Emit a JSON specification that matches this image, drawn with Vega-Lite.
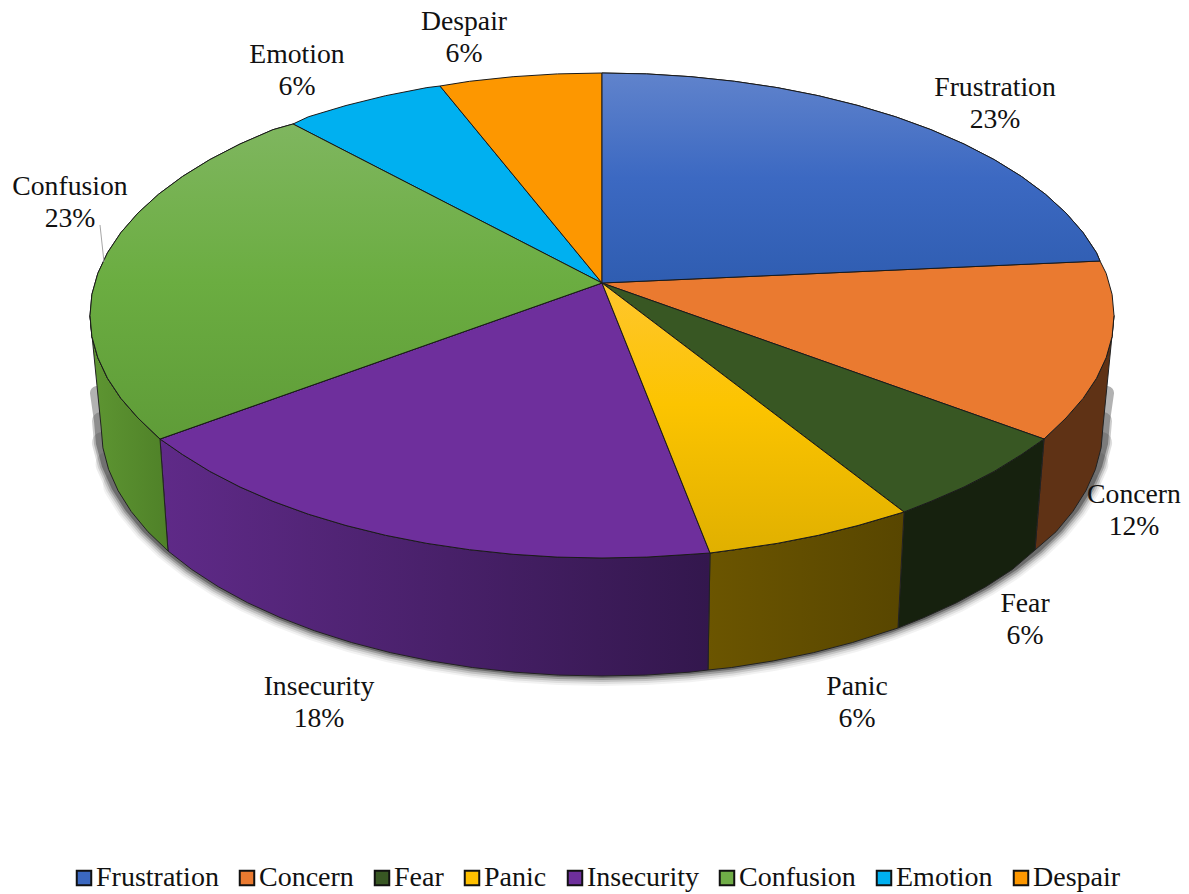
{
"$schema":"https://vega.github.io/schema/vega-lite/v6.json",
"width":1189,"height":894,"padding":0,
"autosize":{"type":"fit","contains":"padding"},
"background":"white",
"config":{"view":{"stroke":null},"text":{"font":"Liberation Serif","fontSize":27.7,"color":"#111111"}},
"datasets":{
"labels":[
{"category":"Frustration","share":"23%","x":393,"y":180},
{"category":"Concern","share":"12%","x":532,"y":-227},
{"category":"Fear","share":"6%","x":423,"y":-336},
{"category":"Panic","share":"6%","x":255,"y":-419},
{"category":"Insecurity","share":"18%","x":-283,"y":-419},
{"category":"Confusion","share":"23%","x":-532,"y":81},
{"category":"Emotion","share":"6%","x":-305,"y":213},
{"category":"Despair","share":"6%","x":-138,"y":246}
],
"leader":[{"s":1,"x":-502,"y":58},{"s":2,"x":-498,"y":21}],
"shadow":[
{"s":0,"x":-505,"y":-115},{"s":1,"x":-501,"y":-143},{"s":2,"x":-499.1,"y":-164.8},{"s":3,"x":-493.4,"y":-186.4},{"s":4,"x":-483.9,"y":-207.7},{"s":5,"x":-470.8,"y":-228.5},{"s":6,"x":-454.1,"y":-248.7},{"s":7,"x":-433.9,"y":-268},{"s":8,"x":-410.4,"y":-286.4},{"s":9,"x":-383.8,"y":-303.7},{"s":10,"x":-354.3,"y":-319.8},{"s":11,"x":-322,"y":-334.5},{"s":12,"x":-287.4,"y":-347.8},{"s":13,"x":-250.5,"y":-359.5},{"s":14,"x":-211.7,"y":-369.6},{"s":15,"x":-171.3,"y":-377.9},{"s":16,"x":-129.7,"y":-384.5},{"s":17,"x":-87,"y":-389.2},{"s":18,"x":-43.7,"y":-392.1},{"s":19,"x":0,"y":-393},{"s":20,"x":43.7,"y":-392.1},{"s":21,"x":87,"y":-389.2},{"s":22,"x":129.7,"y":-384.5},{"s":23,"x":171.3,"y":-377.9},{"s":24,"x":211.7,"y":-369.6},{"s":25,"x":250.5,"y":-359.5},{"s":26,"x":287.4,"y":-347.8},{"s":27,"x":322,"y":-334.5},{"s":28,"x":354.3,"y":-319.8},{"s":29,"x":383.8,"y":-303.7},{"s":30,"x":410.4,"y":-286.4},{"s":31,"x":433.9,"y":-268},{"s":32,"x":454.1,"y":-248.7},{"s":33,"x":470.8,"y":-228.5},{"s":34,"x":483.9,"y":-207.7},{"s":35,"x":493.4,"y":-186.4},{"s":36,"x":499.1,"y":-164.8},{"s":37,"x":501,"y":-143},{"s":38,"x":505,"y":-115}
],
"side":[
{"category":"Concern","s":1,"x":512,"y":-32.5},{"category":"Concern","s":2,"x":510.1,"y":-53.6},{"category":"Concern","s":3,"x":504.2,"y":-74.6},{"category":"Concern","s":4,"x":494.5,"y":-95.3},{"category":"Concern","s":5,"x":481.1,"y":-115.4},{"category":"Concern","s":6,"x":464,"y":-135},{"category":"Concern","s":7,"x":442,"y":-156},{"category":"Concern","s":8,"x":433,"y":-267},{"category":"Concern","s":9,"x":454.1,"y":-248.7},{"category":"Concern","s":10,"x":470.8,"y":-228.5},{"category":"Concern","s":11,"x":483.9,"y":-207.7},{"category":"Concern","s":12,"x":493.4,"y":-186.4},{"category":"Concern","s":13,"x":499.1,"y":-164.8},{"category":"Concern","s":14,"x":501,"y":-143},
{"category":"Fear","s":1,"x":442,"y":-156},{"category":"Fear","s":2,"x":419.4,"y":-171.6},{"category":"Fear","s":3,"x":392.2,"y":-188.4},{"category":"Fear","s":4,"x":362,"y":-204},{"category":"Fear","s":5,"x":329.1,"y":-218.3},{"category":"Fear","s":6,"x":302,"y":-229},{"category":"Fear","s":7,"x":296,"y":-345},{"category":"Fear","s":8,"x":322,"y":-334.5},{"category":"Fear","s":9,"x":354.3,"y":-319.8},{"category":"Fear","s":10,"x":383.8,"y":-303.7},{"category":"Fear","s":11,"x":410.4,"y":-286.4},{"category":"Fear","s":12,"x":433,"y":-267},
{"category":"Panic","s":1,"x":302,"y":-229},{"category":"Panic","s":2,"x":256,"y":-242.5},{"category":"Panic","s":3,"x":216.4,"y":-252.3},{"category":"Panic","s":4,"x":175.1,"y":-260.4},{"category":"Panic","s":5,"x":132.5,"y":-266.7},{"category":"Panic","s":6,"x":108,"y":-270},{"category":"Panic","s":7,"x":106,"y":-387},{"category":"Panic","s":8,"x":129.7,"y":-384.5},{"category":"Panic","s":9,"x":171.3,"y":-377.9},{"category":"Panic","s":10,"x":211.7,"y":-369.6},{"category":"Panic","s":11,"x":250.5,"y":-359.5},{"category":"Panic","s":12,"x":296,"y":-345},
{"category":"Insecurity","s":1,"x":108,"y":-270},{"category":"Insecurity","s":2,"x":88.9,"y":-271.3},{"category":"Insecurity","s":3,"x":44.6,"y":-274.1},{"category":"Insecurity","s":4,"x":0,"y":-275},{"category":"Insecurity","s":5,"x":-44.6,"y":-274.1},{"category":"Insecurity","s":6,"x":-88.9,"y":-271.3},{"category":"Insecurity","s":7,"x":-132.5,"y":-266.7},{"category":"Insecurity","s":8,"x":-175.1,"y":-260.4},{"category":"Insecurity","s":9,"x":-216.4,"y":-252.3},{"category":"Insecurity","s":10,"x":-256,"y":-242.5},{"category":"Insecurity","s":11,"x":-293.7,"y":-231.2},{"category":"Insecurity","s":12,"x":-329.1,"y":-218.3},{"category":"Insecurity","s":13,"x":-362,"y":-204},{"category":"Insecurity","s":14,"x":-392.2,"y":-188.4},{"category":"Insecurity","s":15,"x":-419.4,"y":-171.6},{"category":"Insecurity","s":16,"x":-442,"y":-156},{"category":"Insecurity","s":17,"x":-434,"y":-268},{"category":"Insecurity","s":18,"x":-410.4,"y":-286.4},{"category":"Insecurity","s":19,"x":-383.8,"y":-303.7},{"category":"Insecurity","s":20,"x":-354.3,"y":-319.8},{"category":"Insecurity","s":21,"x":-322,"y":-334.5},{"category":"Insecurity","s":22,"x":-287.4,"y":-347.8},{"category":"Insecurity","s":23,"x":-250.5,"y":-359.5},{"category":"Insecurity","s":24,"x":-211.7,"y":-369.6},{"category":"Insecurity","s":25,"x":-171.3,"y":-377.9},{"category":"Insecurity","s":26,"x":-129.7,"y":-384.5},{"category":"Insecurity","s":27,"x":-87,"y":-389.2},{"category":"Insecurity","s":28,"x":-43.7,"y":-392.1},{"category":"Insecurity","s":29,"x":0,"y":-393},{"category":"Insecurity","s":30,"x":43.7,"y":-392.1},{"category":"Insecurity","s":31,"x":87,"y":-389.2},{"category":"Insecurity","s":32,"x":106,"y":-387},
{"category":"Confusion","s":1,"x":-442,"y":-156},{"category":"Confusion","s":2,"x":-464,"y":-135},{"category":"Confusion","s":3,"x":-481.1,"y":-115.4},{"category":"Confusion","s":4,"x":-494.5,"y":-95.3},{"category":"Confusion","s":5,"x":-504.2,"y":-74.6},{"category":"Confusion","s":6,"x":-510.1,"y":-53.6},{"category":"Confusion","s":7,"x":-512,"y":-32.5},{"category":"Confusion","s":8,"x":-501,"y":-143},{"category":"Confusion","s":9,"x":-499.1,"y":-164.8},{"category":"Confusion","s":10,"x":-493.4,"y":-186.4},{"category":"Confusion","s":11,"x":-483.9,"y":-207.7},{"category":"Confusion","s":12,"x":-470.8,"y":-228.5},{"category":"Confusion","s":13,"x":-454.1,"y":-248.7},{"category":"Confusion","s":14,"x":-434,"y":-268}
],
"top":[
{"category":"Frustration","s":0,"x":0,"y":0},{"category":"Frustration","s":1,"x":0,"y":210},{"category":"Frustration","s":2,"x":44.6,"y":209.1},{"category":"Frustration","s":3,"x":88.9,"y":206.3},{"category":"Frustration","s":4,"x":132.5,"y":201.7},{"category":"Frustration","s":5,"x":175.1,"y":195.4},{"category":"Frustration","s":6,"x":216.4,"y":187.3},{"category":"Frustration","s":7,"x":256,"y":177.5},{"category":"Frustration","s":8,"x":293.7,"y":166.2},{"category":"Frustration","s":9,"x":329.1,"y":153.3},{"category":"Frustration","s":10,"x":362,"y":139},{"category":"Frustration","s":11,"x":392.2,"y":123.4},{"category":"Frustration","s":12,"x":419.4,"y":106.6},{"category":"Frustration","s":13,"x":443.4,"y":88.8},{"category":"Frustration","s":14,"x":464,"y":70},{"category":"Frustration","s":15,"x":481.1,"y":50.4},{"category":"Frustration","s":16,"x":494.5,"y":30.3},{"category":"Frustration","s":17,"x":498,"y":22},
{"category":"Concern","s":0,"x":0,"y":0},{"category":"Concern","s":1,"x":498,"y":22},{"category":"Concern","s":2,"x":504.2,"y":9.6},{"category":"Concern","s":3,"x":510.1,"y":-11.4},{"category":"Concern","s":4,"x":512,"y":-32.5},{"category":"Concern","s":5,"x":510.1,"y":-53.6},{"category":"Concern","s":6,"x":504.2,"y":-74.6},{"category":"Concern","s":7,"x":494.5,"y":-95.3},{"category":"Concern","s":8,"x":481.1,"y":-115.4},{"category":"Concern","s":9,"x":464,"y":-135},{"category":"Concern","s":10,"x":442,"y":-156},
{"category":"Fear","s":0,"x":0,"y":0},{"category":"Fear","s":1,"x":442,"y":-156},{"category":"Fear","s":2,"x":419.4,"y":-171.6},{"category":"Fear","s":3,"x":392.2,"y":-188.4},{"category":"Fear","s":4,"x":362,"y":-204},{"category":"Fear","s":5,"x":329.1,"y":-218.3},{"category":"Fear","s":6,"x":302,"y":-229},
{"category":"Panic","s":0,"x":0,"y":0},{"category":"Panic","s":1,"x":302,"y":-229},{"category":"Panic","s":2,"x":256,"y":-242.5},{"category":"Panic","s":3,"x":216.4,"y":-252.3},{"category":"Panic","s":4,"x":175.1,"y":-260.4},{"category":"Panic","s":5,"x":132.5,"y":-266.7},{"category":"Panic","s":6,"x":108,"y":-270},
{"category":"Insecurity","s":0,"x":0,"y":0},{"category":"Insecurity","s":1,"x":108,"y":-270},{"category":"Insecurity","s":2,"x":88.9,"y":-271.3},{"category":"Insecurity","s":3,"x":44.6,"y":-274.1},{"category":"Insecurity","s":4,"x":0,"y":-275},{"category":"Insecurity","s":5,"x":-44.6,"y":-274.1},{"category":"Insecurity","s":6,"x":-88.9,"y":-271.3},{"category":"Insecurity","s":7,"x":-132.5,"y":-266.7},{"category":"Insecurity","s":8,"x":-175.1,"y":-260.4},{"category":"Insecurity","s":9,"x":-216.4,"y":-252.3},{"category":"Insecurity","s":10,"x":-256,"y":-242.5},{"category":"Insecurity","s":11,"x":-293.7,"y":-231.2},{"category":"Insecurity","s":12,"x":-329.1,"y":-218.3},{"category":"Insecurity","s":13,"x":-362,"y":-204},{"category":"Insecurity","s":14,"x":-392.2,"y":-188.4},{"category":"Insecurity","s":15,"x":-419.4,"y":-171.6},{"category":"Insecurity","s":16,"x":-442,"y":-156},
{"category":"Confusion","s":0,"x":0,"y":0},{"category":"Confusion","s":1,"x":-442,"y":-156},{"category":"Confusion","s":2,"x":-464,"y":-135},{"category":"Confusion","s":3,"x":-481.1,"y":-115.4},{"category":"Confusion","s":4,"x":-494.5,"y":-95.3},{"category":"Confusion","s":5,"x":-504.2,"y":-74.6},{"category":"Confusion","s":6,"x":-510.1,"y":-53.6},{"category":"Confusion","s":7,"x":-512,"y":-32.5},{"category":"Confusion","s":8,"x":-510.1,"y":-11.4},{"category":"Confusion","s":9,"x":-504.2,"y":9.6},{"category":"Confusion","s":10,"x":-494.5,"y":30.3},{"category":"Confusion","s":11,"x":-481.1,"y":50.4},{"category":"Confusion","s":12,"x":-464,"y":70},{"category":"Confusion","s":13,"x":-443.4,"y":88.8},{"category":"Confusion","s":14,"x":-419.4,"y":106.6},{"category":"Confusion","s":15,"x":-392.2,"y":123.4},{"category":"Confusion","s":16,"x":-362,"y":139},{"category":"Confusion","s":17,"x":-329.1,"y":153.3},{"category":"Confusion","s":18,"x":-309,"y":159},
{"category":"Emotion","s":0,"x":0,"y":0},{"category":"Emotion","s":1,"x":-309,"y":159},{"category":"Emotion","s":2,"x":-293.7,"y":166.2},{"category":"Emotion","s":3,"x":-256,"y":177.5},{"category":"Emotion","s":4,"x":-216.4,"y":187.3},{"category":"Emotion","s":5,"x":-175.1,"y":195.4},{"category":"Emotion","s":6,"x":-162,"y":197},
{"category":"Despair","s":0,"x":0,"y":0},{"category":"Despair","s":1,"x":-162,"y":197},{"category":"Despair","s":2,"x":-132.5,"y":201.7},{"category":"Despair","s":3,"x":-88.9,"y":206.3},{"category":"Despair","s":4,"x":-44.6,"y":209.1},{"category":"Despair","s":5,"x":0,"y":210}
]
},
"encoding":{
"x":{"field":"x","type":"quantitative","axis":null,"scale":{"domain":[-602,587],"nice":false,"zero":false}},
"y":{"field":"y","type":"quantitative","axis":null,"scale":{"domain":[-611,283],"nice":false,"zero":false}}
},
"layer":[
{"data":{"name":"shadow"},"transform":[{"filter":"datum.s>=4 && datum.s<=34"}],"mark":{"type":"line","stroke":"#000000","strokeWidth":30,"opacity":0.05,"yOffset":-5,"strokeCap":"round"},"encoding":{"order":{"field":"s"}}},
{"data":{"name":"shadow"},"transform":[{"filter":"datum.s>=3 && datum.s<=35"}],"mark":{"type":"line","stroke":"#000000","strokeWidth":26,"opacity":0.08,"yOffset":-5,"strokeCap":"round"},"encoding":{"order":{"field":"s"}}},
{"data":{"name":"shadow"},"transform":[{"filter":"datum.s>=2 && datum.s<=36"}],"mark":{"type":"line","stroke":"#000000","strokeWidth":22,"opacity":0.13,"yOffset":-5,"strokeCap":"round"},"encoding":{"order":{"field":"s"}}},
{"data":{"name":"shadow"},"transform":[{"filter":"datum.s>=1 && datum.s<=37"}],"mark":{"type":"line","stroke":"#000000","strokeWidth":18,"opacity":0.2,"yOffset":-5,"strokeCap":"round"},"encoding":{"order":{"field":"s"}}},
{"data":{"name":"shadow"},"mark":{"type":"line","stroke":"#000000","strokeWidth":14,"opacity":0.3,"yOffset":-5,"strokeCap":"round"},"encoding":{"order":{"field":"s"}}},

{"data":{"name":"side"},"transform":[{"filter":"datum.category==='Concern'"}],"mark":{"type":"line","interpolate":"linear-closed","stroke":"#222222","strokeWidth":1,"fill":"#5f3215"},"encoding":{"order":{"field":"s"}}},
{"data":{"name":"side"},"transform":[{"filter":"datum.category==='Fear'"}],"mark":{"type":"line","interpolate":"linear-closed","stroke":"#222222","strokeWidth":1,"fill":"#16210e"},"encoding":{"order":{"field":"s"}}},
{"data":{"name":"side"},"transform":[{"filter":"datum.category==='Panic'"}],"mark":{"type":"line","interpolate":"linear-closed","stroke":"#222222","strokeWidth":1,"fill":{"gradient":"linear","x1":0,"y1":0,"x2":1,"y2":0,"stops":[{"offset":0,"color":"#6b5500"},{"offset":1,"color":"#584600"}]}},"encoding":{"order":{"field":"s"}}},
{"data":{"name":"side"},"transform":[{"filter":"datum.category==='Insecurity'"}],"mark":{"type":"line","interpolate":"linear-closed","stroke":"#222222","strokeWidth":1,"fill":{"gradient":"linear","x1":0,"y1":0,"x2":1,"y2":0,"stops":[{"offset":0,"color":"#5f2a88"},{"offset":1,"color":"#33174d"}]}},"encoding":{"order":{"field":"s"}}},
{"data":{"name":"side"},"transform":[{"filter":"datum.category==='Confusion'"}],"mark":{"type":"line","interpolate":"linear-closed","stroke":"#222222","strokeWidth":1,"fill":{"gradient":"linear","x1":0,"y1":0,"x2":1,"y2":0,"stops":[{"offset":0,"color":"#5e9632"},{"offset":1,"color":"#4f8128"}]}},"encoding":{"order":{"field":"s"}}},

{"data":{"name":"top"},"mark":{"type":"line","interpolate":"linear-closed","stroke":"#1a1a1a","strokeWidth":1},
 "encoding":{"order":{"field":"s"},"detail":{"field":"category"},
  "fill":{"field":"category","type":"nominal",
   "scale":{"domain":["Frustration","Concern","Fear","Panic","Insecurity","Confusion","Emotion","Despair"],"range":["#3b68c0","#ea7a30","#385723","#ffc000","#6e2f9c","#70ad47","#00b0f0","#fd9700"]},
   "legend":{"title":null,"orient":"none","legendX":70,"legendY":864,"direction":"horizontal","columns":8,"columnPadding":14,"symbolType":"square","symbolSize":210,"symbolStrokeColor":"#111111","symbolStrokeWidth":2,"symbolOpacity":1,"labelFont":"Liberation Serif","labelFontSize":28,"labelColor":"#111111","labelOffset":-2,"labelLimit":0}}}},

{"data":{"name":"top"},"transform":[{"filter":"datum.category==='Frustration'"}],"mark":{"type":"line","interpolate":"linear-closed","stroke":"#1a1a1a","strokeWidth":1,"fill":{"gradient":"linear","x1":0,"y1":0,"x2":0,"y2":1,"stops":[{"offset":0,"color":"#6083cc"},{"offset":0.5,"color":"#3c69c2"},{"offset":1,"color":"#2f5db1"}]}},"encoding":{"order":{"field":"s"}}},
{"data":{"name":"top"},"transform":[{"filter":"datum.category==='Panic'"}],"mark":{"type":"line","interpolate":"linear-closed","stroke":"#1a1a1a","strokeWidth":1,"fill":{"gradient":"linear","x1":0,"y1":0,"x2":0,"y2":1,"stops":[{"offset":0,"color":"#ffc62e"},{"offset":0.45,"color":"#fcc400"},{"offset":1,"color":"#e0b000"}]}},"encoding":{"order":{"field":"s"}}},
{"data":{"name":"top"},"transform":[{"filter":"datum.category==='Confusion'"}],"mark":{"type":"line","interpolate":"linear-closed","stroke":"#1a1a1a","strokeWidth":1,"fill":{"gradient":"linear","x1":0,"y1":0,"x2":0,"y2":1,"stops":[{"offset":0,"color":"#7fb65f"},{"offset":0.5,"color":"#6bad41"},{"offset":1,"color":"#5f9c38"}]}},"encoding":{"order":{"field":"s"}}},

{"data":{"name":"leader"},"mark":{"type":"line","stroke":"#a6a6a6","strokeWidth":1},"encoding":{"order":{"field":"s"}}},
{"data":{"name":"labels"},"mark":{"type":"text","dy":-15,"align":"center","baseline":"middle"},"encoding":{"text":{"field":"category"}}},
{"data":{"name":"labels"},"mark":{"type":"text","dy":17,"align":"center","baseline":"middle"},"encoding":{"text":{"field":"share"}}}
]
}
